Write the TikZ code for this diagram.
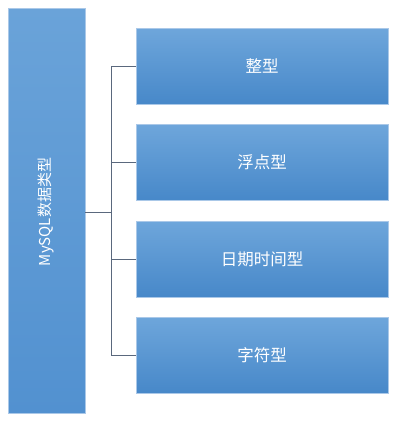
\documentclass[tikz,border=0pt]{standalone}
\usepackage{fontspec}
\setmainfont{Noto Sans CJK SC}
\begin{document}
\begin{tikzpicture}[x=1pt,y=-1pt,
  catbox/.style={draw=edgeblue, line width=0.5pt, top color=topblue, bottom color=botblue, minimum width=252pt, minimum height=76pt, inner sep=0pt, text=white, font=\fontsize{16.5}{19}\selectfont},
  mainbar/.style={draw=edgeblue, line width=0.5pt, top color=bartop, bottom color=barbot, minimum width=77pt, minimum height=405pt, inner sep=0pt},
  link/.style={draw=linkgray, line width=0.8pt}]
\definecolor{topblue}{RGB}{110,166,219}
\definecolor{botblue}{RGB}{71,136,201}
\definecolor{bartop}{RGB}{106,163,217}
\definecolor{barbot}{RGB}{82,145,208}
\definecolor{edgeblue}{RGB}{170,200,232}
\definecolor{linkgray}{RGB}{90,104,125}
\useasboundingbox (0,0) rectangle (400,423);
\node[mainbar] (bar) at (46.5,210.5) {};
\node[text=white, rotate=90, font=\fontsize{15}{18}\selectfont] (bartext) at (46,212) {MySQL数据类型};
\node[catbox] (b1) at (262,66.5) {整型};
\node[catbox] (b2) at (262,162.5) {浮点型};
\node[catbox] (b3) at (262,259) {日期时间型};
\node[catbox] (b4) at (262,355) {字符型};
\coordinate (j) at (111,212);
\draw[link] (bar.east |- j) -- (j);
\draw[link] (j |- b1.west) -- (j |- b4.west);
\draw[link] (j |- b1.west) -- (b1.west);
\draw[link] (j |- b2.west) -- (b2.west);
\draw[link] (j |- b3.west) -- (b3.west);
\draw[link] (j |- b4.west) -- (b4.west);
\end{tikzpicture}
\end{document}
